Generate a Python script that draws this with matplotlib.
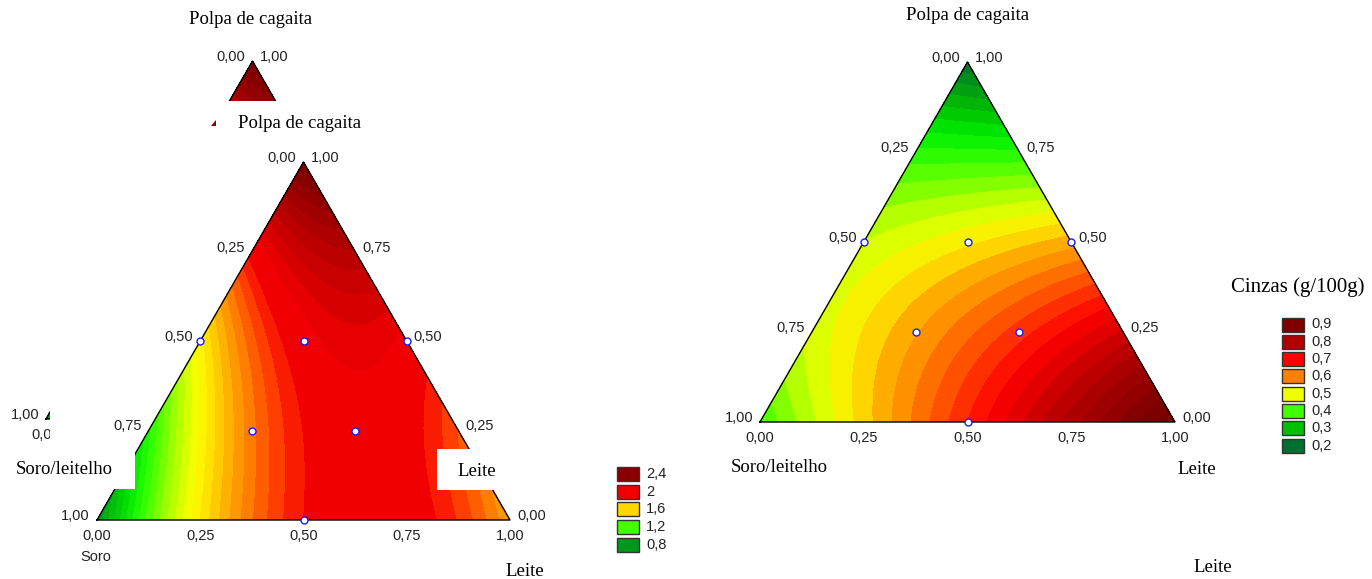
import numpy as np
import matplotlib
matplotlib.use("Agg")
import matplotlib.pyplot as plt
import matplotlib.tri as mtri
from matplotlib.colors import LinearSegmentedColormap, Normalize
from matplotlib.patches import Rectangle, Polygon

W, H = 1372, 579
R3 = np.sqrt(3) / 2

# pontos do planejamento (soro/leitelho, leite, polpa de cagaita)
ponto_soro = [0.50, 0.25, 0.00, 0.50, 0.25, 0.50]
ponto_leite = [0.00, 0.25, 0.50, 0.25, 0.50, 0.50]
ponto_polpa = [0.50, 0.50, 0.50, 0.25, 0.25, 0.00]

# coeficientes do modelo cubico especial: S, L, P, SL, SP, LP, SLP
coef_esq = [0.80, 1.70, 2.50, 2.80, -0.50, -0.30, 2.00]
coef_cinzas = [0.40, 0.95, 0.20, 0.00, 0.70, -0.05, 0.00]

# legendas
leg_esq = [2.4, 2.0, 1.6, 1.2, 0.8]
leg_cinzas = [0.9, 0.8, 0.7, 0.6, 0.5, 0.4, 0.3, 0.2]

marcas = [0.0, 0.25, 0.5, 0.75, 1.0]

SERIF = "Liberation Serif"
SANS = "Liberation Sans"
FS_NOME = 13.5
FS_TICK = 10.5


def fmt(v, casas=2):
    return f"{v:.{casas}f}".replace(".", ",")


def cmap_from(anchors):
    v0, v1 = anchors[0][0], anchors[-1][0]
    pos = [(v - v0) / (v1 - v0) for v, _ in anchors]
    cm = LinearSegmentedColormap.from_list("c", list(zip(pos, [c for _, c in anchors])))
    return cm, Normalize(v0, v1)


cmap_esq, norm_esq = cmap_from([
    (0.70, "#00552b"), (0.80, "#009a1a"), (1.00, "#00d800"), (1.15, "#20ff00"),
    (1.20, "#44ff00"), (1.40, "#ccff00"), (1.50, "#ffff00"), (1.60, "#ffd700"),
    (1.75, "#ff8c00"), (1.90, "#ff3000"), (1.97, "#f00000"), (2.05, "#f00000"),
    (2.15, "#d00000"), (2.30, "#a80000"), (2.40, "#8b0000"), (2.60, "#700000")])

cmap_cin, norm_cin = cmap_from([
    (0.15, "#005530"), (0.20, "#007030"), (0.30, "#00c000"), (0.35, "#00f000"),
    (0.40, "#40ff00"), (0.47, "#c0ff00"), (0.50, "#f0ff00"), (0.53, "#ffe000"),
    (0.56, "#ffb000"), (0.60, "#ff8000"), (0.65, "#ff4000"), (0.70, "#ff0000"),
    (0.80, "#b00000"), (0.90, "#800000"), (1.00, "#6a0000")])


def cart(s, l, p):
    s, l, p = np.asarray(s), np.asarray(l), np.asarray(p)
    return l + p / 2, p * R3


def modelo(c, s, l, p):
    return (c[0] * s + c[1] * l + c[2] * p + c[3] * s * l + c[4] * s * p
            + c[5] * l * p + c[6] * s * l * p)


def malha(n=90):
    idx, ss, ll = {}, [], []
    for i in range(n + 1):
        for j in range(n + 1 - i):
            idx[(i, j)] = len(ss)
            ss.append(i / n)
            ll.append(j / n)
    tris = []
    for i in range(n):
        for j in range(n - i):
            tris.append([idx[(i, j)], idx[(i + 1, j)], idx[(i, j + 1)]])
            if i + j < n - 1:
                tris.append([idx[(i + 1, j)], idx[(i + 1, j + 1)], idx[(i, j + 1)]])
    ss, ll = np.array(ss), np.array(ll)
    pp = np.clip(1 - ss - ll, 0, 1)
    return ss, ll, pp, np.array(tris)


def ternario(fig, caixa, coef, niveis, cmap, norm, z):
    l, t, r, b = caixa
    ax = fig.add_axes([l / W, 1 - b / H, (r - l) / W, (b - t) / H])
    ax.set_xlim(0, 1)
    ax.set_ylim(0, R3)
    ax.axis("off")
    ax.patch.set_alpha(0)
    ax.set_zorder(z)

    ss, ll, pp, tris = malha()
    x, y = cart(ss, ll, pp)
    tri = mtri.Triangulation(x, y, tris)
    ax.tricontourf(tri, modelo(coef, ss, ll, pp), levels=niveis, cmap=cmap, norm=norm,
                   extend="both")

    bx, by = cart([1, 0, 0, 1], [0, 1, 0, 0], [0, 0, 1, 0])
    ax.plot(bx, by, color="black", lw=1.0, clip_on=False)

    px, py = cart(ponto_soro, ponto_leite, ponto_polpa)
    ax.plot(px, py, "o", ms=5, mfc="white", mec="#1a1aff", mew=1.0, clip_on=False, zorder=5)

    kw = dict(textcoords="offset pixels", va="center", fontsize=FS_TICK, family=SANS,
              color="#222222", annotation_clip=False)
    for v in marcas:
        # lado esquerdo: soro/leitelho
        xe, ye = cart(v, 0, 1 - v)
        ax.annotate(fmt(v), (xe, ye), xytext=(-7, 4), ha="right", **kw)
        # lado direito: polpa
        xd, yd = cart(0, 1 - v, v)
        ax.annotate(fmt(v), (xd, yd), xytext=(7, 4), ha="left", **kw)
        # base: leite
        xb, yb = cart(1 - v, v, 0)
        ax.annotate(fmt(v), (xb, yb), xytext=(0, -16), ha="center", **kw)
    return ax


def texto(fig, x, y, s, fam=SERIF, size=FS_NOME, z=3, **kw):
    fig.text(x / W, 1 - y / H, s, family=fam, fontsize=size, ha=kw.pop("ha", "center"),
             va="center", zorder=z, **kw)


def caixa_branca(fig, x0, y0, x1, y1, z=4):
    fig.add_artist(Rectangle((x0 / W, 1 - y1 / H), (x1 - x0) / W, (y1 - y0) / H,
                             transform=fig.transFigure, facecolor="white",
                             edgecolor="none", zorder=z))


def legenda(fig, valores, cmap, norm, x0, y0, passo, casas_fmt):
    for k, v in enumerate(valores):
        yc = y0 + k * passo
        fig.add_artist(Rectangle((x0 / W, 1 - (yc + 7) / H), 22 / W, 14 / H,
                                 transform=fig.transFigure, facecolor=cmap(norm(v)),
                                 edgecolor="#333333", lw=1.0, zorder=3))
        texto(fig, x0 + 29, yc, casas_fmt(v), fam=SANS, size=FS_TICK, ha="left",
              color="#222222")


fig = plt.figure(figsize=(W / 100, H / 100), dpi=100)
fig.patch.set_facecolor("white")

niveis_esq = np.arange(0.70, 2.61, 0.05)
niveis_cin = np.arange(0.15, 1.001, 0.025)

# painel esquerdo: copia deslocada, coberta pelo painel principal
dx, dy = -51, -101
ternario(fig, (97 + dx, 162 + dy, 510 + dx, 520 + dy), coef_esq, niveis_esq,
         cmap_esq, norm_esq, z=0)
texto(fig, 251, 20, "Polpa de cagaita")
caixa_branca(fig, 50, 101, 700, H, z=1)

ternario(fig, (97, 162, 510, 520), coef_esq, niveis_esq, cmap_esq, norm_esq, z=2)
texto(fig, 300, 124, "Polpa de cagaita")
fig.add_artist(Polygon([(211 / W, 1 - 126 / H), (216 / W, 1 - 120 / H), (216 / W, 1 - 126 / H)],
                       closed=True, transform=fig.transFigure, facecolor="#8b0000",
                       edgecolor="none", zorder=3))
texto(fig, 96, 557, "Soro", fam=SANS, size=FS_TICK, color="#222222")
texto(fig, 525, 571, "Leite")
caixa_branca(fig, 0, 453, 135, 489)
texto(fig, 64, 469, "Soro/leitelho", z=5)
caixa_branca(fig, 437, 449, 500, 490)
texto(fig, 477, 471, "Leite", z=5)
legenda(fig, leg_esq, cmap_esq, norm_esq, 617, 474, 17.7, lambda v: f"{v:g}".replace(".", ","))

# painel direito: cinzas
ternario(fig, (760, 62, 1175, 422), coef_cinzas, niveis_cin, cmap_cin, norm_cin, z=2)
texto(fig, 968, 16, "Polpa de cagaita")
texto(fig, 779, 468, "Soro/leitelho")
texto(fig, 1197, 469, "Leite")
texto(fig, 1213, 567, "Leite")
texto(fig, 1298, 287, "Cinzas (g/100g)", size=15)
legenda(fig, leg_cinzas, cmap_cin, norm_cin, 1282, 324.5, 17.3, lambda v: fmt(v, 1))

fig.savefig("out.png", dpi=100, facecolor="white")
